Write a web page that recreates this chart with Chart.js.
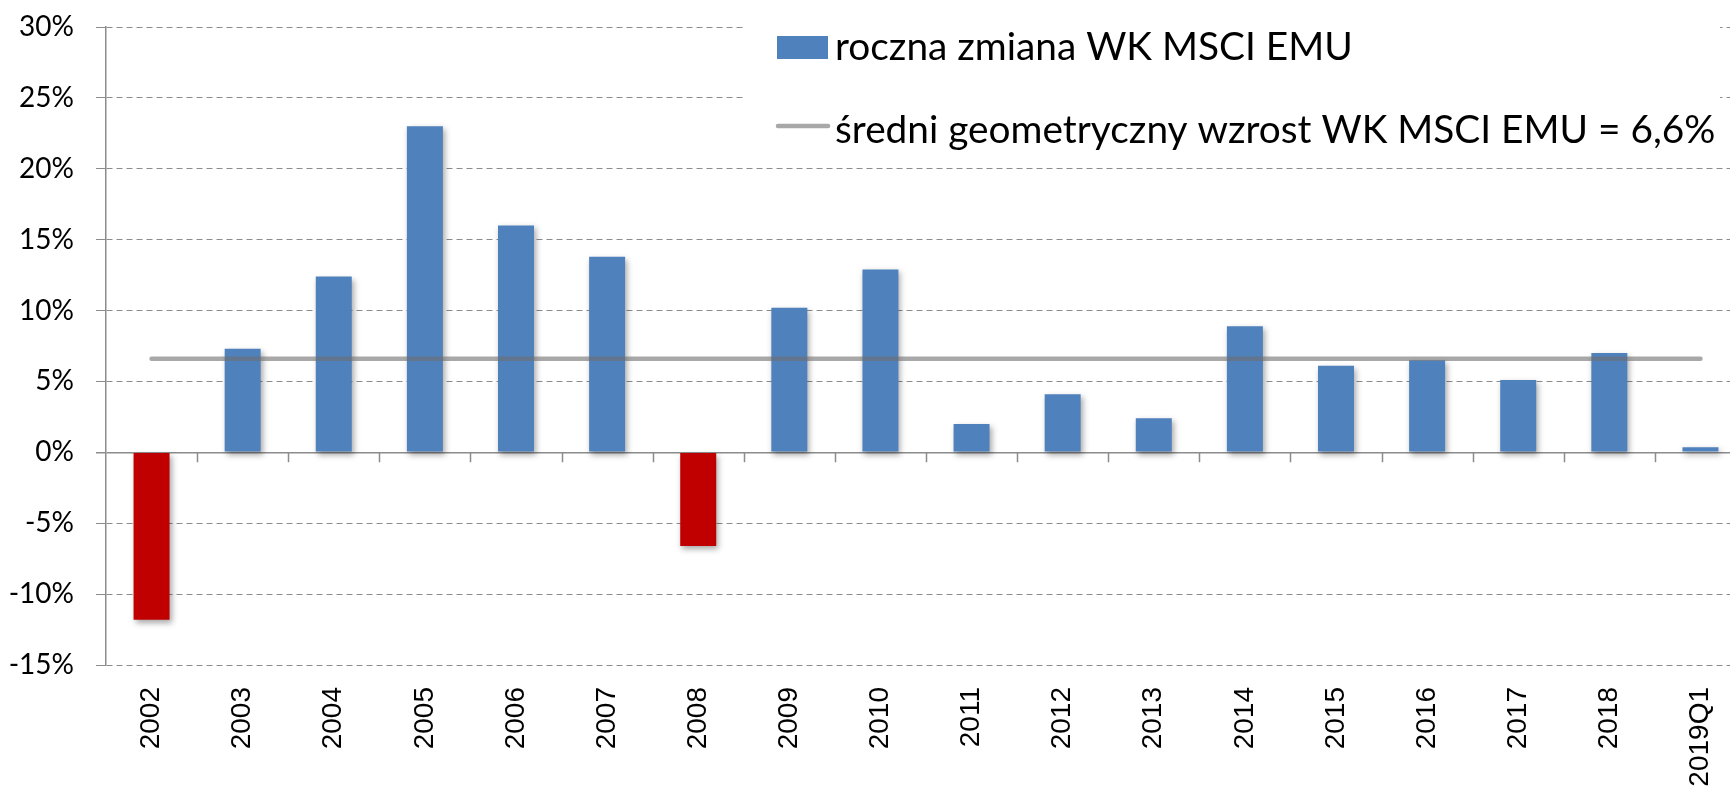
<!DOCTYPE html>
<html lang="pl">
<head>
<meta charset="utf-8">
<title>WK MSCI EMU</title>
<script src="https://cdn.jsdelivr.net/npm/chart.js@4/dist/chart.umd.min.js"></script>
<style>
    html, body { margin: 0; padding: 0; background: #fff; overflow: hidden; }
    #wrap { position: relative; width: 1760px; height: 788px; }
</style>
</head>
<body>
<div id="wrap"><canvas id="chart"></canvas></div>
<script>
// dane
const years = ['2002', '2003', '2004', '2005', '2006', '2007', '2008', '2009', '2010',
    '2011', '2012', '2013', '2014', '2015', '2016', '2017', '2018', '2019Q1'];
const annualChange = [-11.8, 7.3, 12.4, 23.0, 16.0, 13.8, -6.6, 10.2, 12.9,
    2.0, 4.1, 2.4, 8.9, 6.1, 6.5, 5.1, 7.0, 0.35];
const avgGrowth = [6.6, 6.6, 6.6, 6.6, 6.6, 6.6, 6.6, 6.6, 6.6,
    6.6, 6.6, 6.6, 6.6, 6.6, 6.6, 6.6, 6.6, 6.6];
const yTicks = [-15, -10, -5, 0, 5, 10, 15, 20, 25, 30];

const barLabel = 'roczna zmiana WK MSCI EMU';
const lineLabel = 'średni geometryczny wzrost WK MSCI EMU = 6,6%';

const BLUE = '#4F81BD';
const RED = '#C00000';
const LINE = 'rgba(110, 110, 110, 0.6)';
const AXIS = '#8c8c8c';

// cień pod słupkami (jak w Excelu)
const barShadow = {
    id: 'barShadow',
    beforeDatasetDraw(chart, args) {
        if (args.meta.type !== 'bar') return;
        const ctx = chart.ctx;
        ctx.save();
        ctx.shadowColor = 'rgba(0, 0, 0, 0.35)';
        ctx.shadowBlur = 6;
        ctx.shadowOffsetX = 2;
        ctx.shadowOffsetY = 3;
    },
    afterDatasetDraw(chart, args) {
        if (args.meta.type !== 'bar') return;
        chart.ctx.restore();
    },
};

// kreski podziałki osi X na linii 0%
const zeroTicks = {
    id: 'zeroTicks',
    afterDraw(chart) {
        const { ctx, scales } = chart;
        const x = scales.x;
        const y0 = scales.y.getPixelForValue(0);
        ctx.save();
        ctx.strokeStyle = AXIS;
        ctx.lineWidth = 1.5;
        ctx.beginPath();
        for (let i = 1; i < years.length; i++) {
            const px = Math.round(x.getPixelForValue(i - 0.5)) + 0.5;
            ctx.moveTo(px, y0);
            ctx.lineTo(px, y0 + 10);
        }
        ctx.stroke();
        ctx.restore();
    },
};

// legenda wewnątrz obszaru wykresu
const innerLegend = {
    id: 'innerLegend',
    afterDraw(chart) {
        const { ctx, chartArea } = chart;
        const ds = chart.data.datasets;
        ctx.save();
        ctx.fillStyle = '#fff';
        ctx.fillRect(745, chartArea.top - 4, 975, 160 - chartArea.top);

        ctx.fillStyle = BLUE;
        ctx.fillRect(777, 36, 51, 23);

        ctx.strokeStyle = LINE;
        ctx.lineWidth = 4.5;
        ctx.lineCap = 'round';
        ctx.beginPath();
        ctx.moveTo(778, 126);
        ctx.lineTo(828, 126);
        ctx.stroke();

        ctx.fillStyle = '#000';
        ctx.font = '38.8px Lato';
        ctx.textBaseline = 'alphabetic';
        ctx.fillText(ds[1].label, 835, 60);
        ctx.fillText(ds[0].label, 835, 143);
        ctx.restore();
    },
};

new Chart(document.getElementById('chart'), {
    data: {
        labels: years,
        datasets: [
            {
                type: 'line',
                label: lineLabel,
                data: avgGrowth,
                borderColor: LINE,
                borderWidth: 4.5,
                borderCapStyle: 'round',
                pointRadius: 0,
                order: 0,
            },
            {
                type: 'bar',
                label: barLabel,
                data: annualChange,
                backgroundColor: (c) => (c.raw < 0 ? RED : BLUE),
                barPercentage: 0.395,
                categoryPercentage: 1,
                order: 1,
            },
        ],
    },
    options: {
        responsive: true,
        maintainAspectRatio: false,
        animation: false,
        layout: { padding: { top: 27, right: 14, left: 0, bottom: 0 } },
        plugins: {
            legend: { display: false },
            tooltip: { enabled: false },
        },
        scales: {
            x: {
                grid: { display: false, drawTicks: false },
                border: { display: false },
                ticks: {
                    autoSkip: false,
                    maxRotation: 90,
                    minRotation: 90,
                    padding: 22,
                    color: '#000',
                    font: { family: 'Liberation Sans', size: 28 },
                },
                afterFit: (s) => { s.height = 123; },
            },
            y: {
                min: -15,
                max: 30,
                afterBuildTicks: (s) => { s.ticks = yTicks.map((v) => ({ value: v })); },
                grid: {
                    color: AXIS,
                    lineWidth: (c) => (c.tick && c.tick.value === 0 ? 1.5 : 1),
                    tickLength: 10,
                    tickBorderDash: [],
                },
                border: {
                    color: AXIS,
                    width: 1.5,
                    dash: (c) => (c.tick && c.tick.value !== 0 ? [6, 4] : []),
                },
                ticks: {
                    padding: 22,
                    color: '#000',
                    font: { family: 'Lato', size: 28 },
                    callback: (v) => v + '%',
                },
                afterFit: (s) => {
                    s.width = 106;
                    s.paddingTop = 0;
                    s.paddingBottom = 0;
                },
            },
        },
    },
    plugins: [barShadow, zeroTicks, innerLegend],
});
</script>
</body>
</html>
